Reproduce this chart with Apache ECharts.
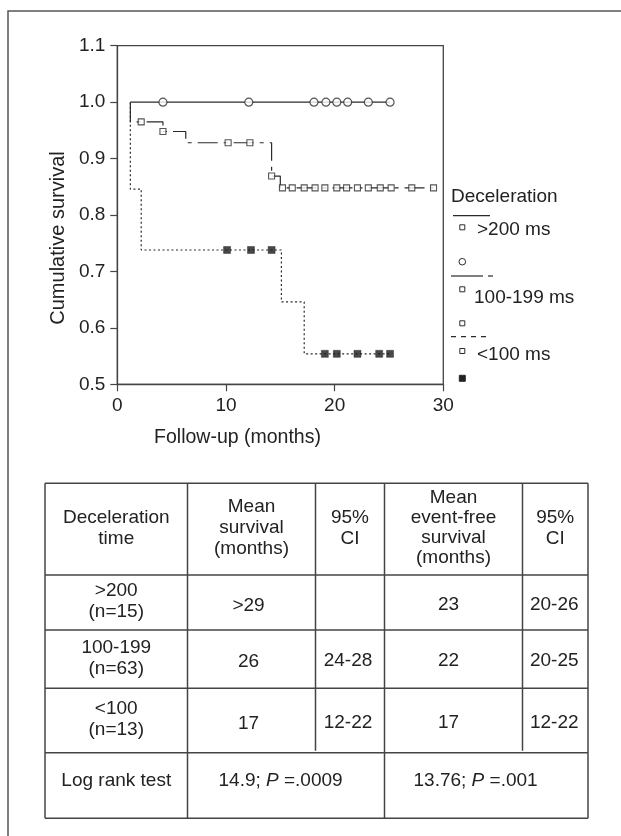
<!DOCTYPE html>
<html>
<head>
<meta charset="utf-8">
<script src="https://cdn.jsdelivr.net/npm/echarts@6/dist/echarts.min.js"></script>
<style>
html,body{margin:0;padding:0;background:#fff;}
#chart{width:621px;height:836px;}
</style>
</head>
<body>
<div id="chart"></div>
<script>
// ---------------- DATA ----------------
var xTicks = [0, 10, 20, 30];
var yTicks = [0.5, 0.6, 0.7, 0.8, 0.9, 1.0, 1.1];
var seriesNames = ['>200 ms', '100-199 ms', '<100 ms'];

// Kaplan-Meier step curves (time in months, cumulative survival)
var gt200Times = [1.2, 25.1];
var gt200Surv  = [1.0, 1.0];
var mid199Times = [1.2, 1.2, 4.2, 6.3, 14.2, 15.0, 29.1];
var mid199Surv  = [1.0, 0.965, 0.948, 0.928, 0.869, 0.848, 0.848];
var lt100Times = [1.2, 1.2, 2.2, 15.1, 17.2, 25.1];
var lt100Surv  = [1.0, 0.846, 0.738, 0.646, 0.554, 0.554];

// censored observations
var gt200CensorTimes = [4.2, 12.1, 18.1, 19.2, 20.2, 21.2, 23.1, 25.1];
var gt200CensorSurv  = [1.0, 1.0, 1.0, 1.0, 1.0, 1.0, 1.0, 1.0];
var mid199CensorTimes = [2.2, 4.2, 10.2, 12.2, 14.2, 15.2, 16.1, 17.2, 18.2, 19.1, 20.2, 21.1, 22.1, 23.1, 24.2, 25.2, 27.1, 29.1];
var mid199CensorSurv  = [0.965, 0.948, 0.928, 0.928, 0.869, 0.848, 0.848, 0.848, 0.848, 0.848, 0.848, 0.848, 0.848, 0.848, 0.848, 0.848, 0.848, 0.848];
var lt100CensorTimes = [10.1, 12.3, 14.2, 19.1, 20.2, 22.1, 24.1, 25.1];
var lt100CensorSurv  = [0.738, 0.738, 0.738, 0.554, 0.554, 0.554, 0.554, 0.554];

// table
var tableHeader = ['Deceleration\ntime', 'Mean\nsurvival\n(months)', '95%\nCI', 'Mean\nevent-free\nsurvival\n(months)', '95%\nCI'];
var groupLabels = ['>200\n(n=15)', '100-199\n(n=63)', '<100\n(n=13)'];
var meanSurvival = ['>29', '26', '17'];
var ciSurvival = ['', '24-28', '12-22'];
var meanEventFree = ['23', '22', '17'];
var ciEventFree = ['20-26', '20-25', '12-22'];
var logRankLabel = 'Log rank test';
var logRankSurvival = ['14.9; ', 'P', ' =.0009'];
var logRankEventFree = ['13.76; ', 'P', ' =.001'];

// ---------------- RENDER ----------------
var FONT = "'Liberation Sans',Arial,Helvetica,sans-serif";
var FS = 19;
var TXT = '#222';
var LINE = '#2a2a2a';

function pairs(xs, ys) { return xs.map(function (x, i) { return [x, ys[i]]; }); }

var chart = echarts.init(document.getElementById('chart'), null, {renderer: 'canvas'});

var graphics = [];
// outer frame (cropped at right / bottom)
graphics.push({type: 'polyline', shape: {points: [[8, 840], [8, 11], [625, 11]]}, style: {stroke: '#555', lineWidth: 1.5, fill: null}, silent: true});

// axis titles
graphics.push({type: 'text', x: 58, y: 238, rotation: Math.PI / 2,
  style: {text: 'Cumulative survival', font: '20px ' + FONT, fill: TXT, align: 'center', verticalAlign: 'middle'}});
graphics.push({type: 'text', x: 237.5, y: 438,
  style: {text: 'Follow-up (months)', font: '19.5px ' + FONT, fill: TXT, align: 'center', verticalAlign: 'middle'}});

// legend (as drawn in the original)
function ltext(t, x, y) {
  graphics.push({type: 'text', x: x, y: y, style: {text: t, font: FS + 'px ' + FONT, fill: TXT, align: 'left', verticalAlign: 'middle'}});
}
function lline(x1, x2, y, dash) {
  graphics.push({type: 'line', shape: {x1: x1, y1: y, x2: x2, y2: y}, style: {stroke: LINE, lineWidth: 1.2, lineDash: dash || null}});
}
function lsquare(cx, cy, filled) {
  var s = filled ? 6 : 5;
  graphics.push({type: 'rect', shape: {x: cx - s / 2, y: cy - s / 2, width: s, height: s},
    style: {fill: filled ? '#222' : '#fff', stroke: LINE, lineWidth: 1}});
}
ltext('Deceleration', 451, 197);
lline(453, 490, 215.7);
lsquare(462.3, 227.3);
ltext(seriesNames[0], 477, 230);
graphics.push({type: 'circle', shape: {cx: 462.3, cy: 261.7, r: 3.3}, style: {fill: '#fff', stroke: LINE, lineWidth: 1}});
lline(451, 483, 276);
lline(488, 493, 276);
lsquare(462.3, 289.3);
ltext(seriesNames[1], 474, 297.7);
lsquare(462.3, 323.3);
lline(451, 489, 336.7, [5, 5]);
lsquare(462.3, 351);
ltext(seriesNames[2], 477, 355);
lsquare(462.3, 378.3, true);

// table
var colX = [45, 187.5, 315.5, 384.5, 522.5, 588];
var rowY = [483.3, 575, 630, 688.3, 752.7, 818.3];
function tline(x1, y1, x2, y2) {
  graphics.push({type: 'line', shape: {x1: x1, y1: y1, x2: x2, y2: y2}, style: {stroke: '#444', lineWidth: 1.5}});
}
rowY.forEach(function (y) { tline(colX[0], y, colX[5], y); });
tline(colX[0], rowY[0], colX[0], rowY[5]);
tline(colX[5], rowY[0], colX[5], rowY[5]);
tline(colX[1], rowY[0], colX[1], rowY[5]);
tline(colX[3], rowY[0], colX[3], rowY[5]);
tline(colX[2], rowY[0], colX[2], rowY[4] - 2);
tline(colX[4], rowY[0], colX[4], rowY[4] - 2);

function ttext(t, x, y, lh, align) {
  graphics.push({type: 'text', x: x, y: y,
    style: {text: t, font: FS + 'px ' + FONT, fill: TXT, align: align || 'center', verticalAlign: 'middle', lineHeight: lh || 21}});
}
var headerY = 528;
tableHeader.forEach(function (t, i) {
  ttext(t, (colX[i] + colX[i + 1]) / 2, headerY, i === 3 ? 20 : 21);
});
for (var r = 0; r < 3; r++) {
  var cy = (rowY[r + 1] + rowY[r + 2]) / 2;
  ttext(groupLabels[r], (colX[0] + colX[1]) / 2, cy - 1, 21);
  ttext(meanSurvival[r], (colX[1] + colX[2]) / 2 - 3, cy + 3);
  ttext(ciSurvival[r], (colX[2] + colX[3]) / 2 - 2, cy + 2);
  ttext(meanEventFree[r], (colX[3] + colX[4]) / 2 - 5, cy + 2);
  ttext(ciEventFree[r], (colX[4] + colX[5]) / 2 - 1, cy + 2);
}
ttext(logRankLabel, (colX[0] + colX[1]) / 2, 781);
function richText(parts, x, y) {
  graphics.push({type: 'text', x: x, y: y,
    style: {text: parts[0] + '{i|' + parts[1] + '}' + parts[2], font: FS + 'px ' + FONT, fill: TXT,
      align: 'left', verticalAlign: 'middle',
      rich: {i: {fontStyle: 'italic', fontFamily: FONT, fontSize: FS, fill: TXT}}}});
}
richText(logRankSurvival, colX[1] + 31, 781);
richText(logRankEventFree, colX[3] + 29, 781);

var option = {
  backgroundColor: '#fff',
  animation: false,
  grid: {left: 117.3, right: 177.7, top: 45.7, bottom: 451.7, show: true, borderColor: '#444', borderWidth: 1.3, backgroundColor: 'transparent'},
  xAxis: {
    type: 'value', min: xTicks[0], max: xTicks[xTicks.length - 1], interval: 10,
    axisLine: {show: true, onZero: false, lineStyle: {color: '#444', width: 1.3}},
    axisTick: {show: true, length: 7, lineStyle: {color: '#444', width: 1.2}},
    axisLabel: {fontFamily: FONT, fontSize: FS, color: TXT, margin: 12},
    splitLine: {show: false}
  },
  yAxis: {
    type: 'value', min: yTicks[0], max: yTicks[yTicks.length - 1], interval: 0.1,
    axisLine: {show: true, lineStyle: {color: '#444', width: 1.3}},
    axisTick: {show: true, length: 7, lineStyle: {color: '#444', width: 1.2}},
    axisLabel: {fontFamily: FONT, fontSize: FS, color: TXT, margin: 12, formatter: function (v) { return v.toFixed(1); }},
    splitLine: {show: false}
  },
  series: [
    {name: seriesNames[2], type: 'line', step: 'end', data: pairs(lt100Times, lt100Surv), showSymbol: false, z: 2,
      lineStyle: {color: LINE, width: 1.2, type: [2, 2.5]}},
    {name: seriesNames[1], type: 'line', step: 'end', data: pairs(mid199Times, mid199Surv), showSymbol: false, z: 3,
      lineStyle: {color: LINE, width: 1.2, type: [20, 6, 4, 6]}},
    {name: seriesNames[0], type: 'line', step: 'end', data: pairs(gt200Times, gt200Surv), showSymbol: false, z: 4,
      lineStyle: {color: LINE, width: 1.2, type: 'solid'}},
    {name: seriesNames[0] + ' censored', type: 'scatter', data: pairs(gt200CensorTimes, gt200CensorSurv), symbol: 'circle', symbolSize: 8, z: 10,
      itemStyle: {color: '#fff', borderColor: LINE, borderWidth: 1.2}},
    {name: seriesNames[1] + ' censored', type: 'scatter', data: pairs(mid199CensorTimes, mid199CensorSurv), symbol: 'rect', symbolSize: 6, z: 10,
      itemStyle: {color: '#fff', borderColor: LINE, borderWidth: 1.1}},
    {name: seriesNames[2] + ' censored', type: 'scatter', data: pairs(lt100CensorTimes, lt100CensorSurv), symbol: 'rect', symbolSize: 7, z: 10,
      itemStyle: {color: '#1a1a1a', borderColor: '#1a1a1a', borderWidth: 0.5}}
  ],
  graphic: graphics
};
chart.setOption(option);
</script>
</body>
</html>
